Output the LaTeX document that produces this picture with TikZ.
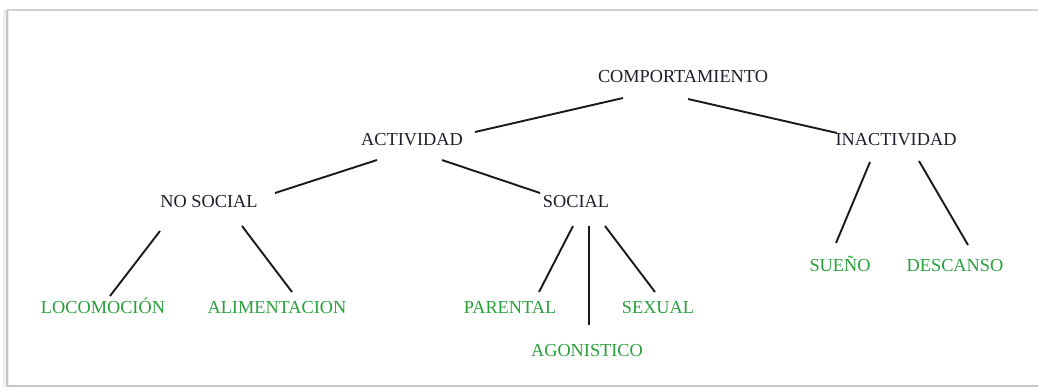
\documentclass[tikz,border=0pt]{standalone}
\usepackage{fontspec}
\setmainfont{Liberation Serif}
\definecolor{lbl}{RGB}{30,30,45}
\definecolor{leaf}{RGB}{40,160,60}
\begin{document}
\begin{tikzpicture}[x=1pt,y=-1pt,
  tnode/.style={anchor=base,inner sep=0pt,text=lbl,font=\fontsize{18.3}{22}\selectfont},
  lnode/.style={tnode,text=leaf},
  conn/.style={draw=black!90,line width=1.9pt}]
\useasboundingbox (0,0) rectangle (1038,389);
% frame
\fill[black!6] (3,10) rectangle (9,387);
\draw[black!18,line width=1.2pt] (7,10) -- (1038,10);
\draw[black!22,line width=1.5pt] (7,10) -- (7,386) -- (1038,386);
% nodes
\node[tnode] (comp) at (683,82) {COMPORTAMIENTO};
\node[tnode] (act) at (412,145) {ACTIVIDAD};
\node[tnode] (inact) at (896,145) {INACTIVIDAD};
\node[tnode] (nosoc) at (209,207) {NO SOCIAL};
\node[tnode] (soc) at (576,207) {SOCIAL};
\node[lnode] (loco) at (103,313) {LOCOMOCIÓN};
\node[lnode] (alim) at (277,313) {ALIMENTACION};
\node[lnode] (par) at (510,313) {PARENTAL};
\node[lnode] (ago) at (587,356) {AGONISTICO};
\node[lnode] (sex) at (658,313) {SEXUAL};
\node[lnode] (sueno) at (840,271) {SUEÑO};
\node[lnode] (desc) at (955,271) {DESCANSO};
% connectors
\draw[conn] ([shift={(-60,16)}]comp.base) -- ([shift={(63,-13)}]act.base);
\draw[conn] ([shift={(5,17)}]comp.base) -- ([shift={(-59,-12)}]inact.base);
\draw[conn] ([shift={(-35,15)}]act.base) -- ([shift={(66,-14)}]nosoc.base);
\draw[conn] ([shift={(30,15)}]act.base) -- ([shift={(-36,-14)}]soc.base);
\draw[conn] ([shift={(-49,24)}]nosoc.base) -- ([shift={(7,-17)}]loco.base);
\draw[conn] ([shift={(33,19)}]nosoc.base) -- ([shift={(15,-21)}]alim.base);
\draw[conn] ([shift={(-3,19)}]soc.base) -- ([shift={(29,-21)}]par.base);
\draw[conn] ([shift={(13,19)}]soc.base) -- ([shift={(2,-31)}]ago.base);
\draw[conn] ([shift={(29,19)}]soc.base) -- ([shift={(-3,-21)}]sex.base);
\draw[conn] ([shift={(-26,17)}]inact.base) -- ([shift={(-4,-28)}]sueno.base);
\draw[conn] ([shift={(23,16)}]inact.base) -- ([shift={(13,-26)}]desc.base);
\end{tikzpicture}
\end{document}
